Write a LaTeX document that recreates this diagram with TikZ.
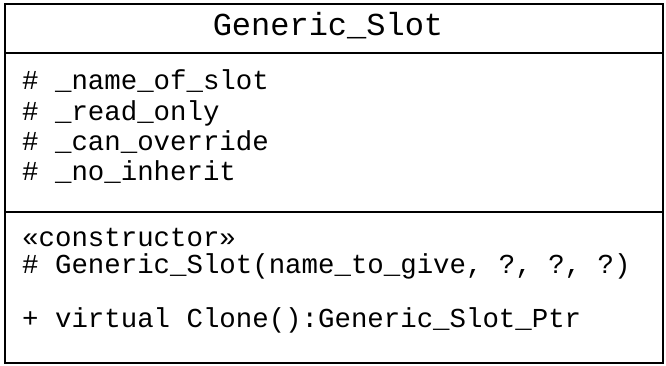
\documentclass[tikz,border=0pt]{standalone}
\usepackage{fontspec}
\setmonofont{Liberation Mono}
\begin{document}
\begin{tikzpicture}[x=1pt,y=-1pt,
    member/.style={anchor=base west,inner sep=0pt,
        font=\ttfamily\fontsize{27.4}{30}\selectfont}]
    \useasboundingbox (0,0) rectangle (666,366);
    % class box and compartments
    \draw[line width=2.5pt] (5,4) rectangle (663,363);
    \draw[line width=2.5pt] (5,53) -- (663,53);
    \draw[line width=2.5pt] (5,212) -- (663,212);
    % class name
    \node[anchor=base,inner sep=0pt,font=\ttfamily\fontsize{32}{34}\selectfont]
        (name) at (328,36) {Generic\_Slot};
    % attributes
    \node[member] (a1) at (22,90) {\# \_name\_of\_slot};
    \node[member] (a2) at (22,121) {\# \_read\_only};
    \node[member] (a3) at (22,151) {\# \_can\_override};
    \node[member] (a4) at (22,181) {\# \_no\_inherit};
    % operations
    \node[member] (st) at (22,246) {«constructor»};
    \node[member] (o1) at (22,273) {\# Generic\_Slot(name\_to\_give, ?, ?, ?)};
    \node[member] (o2) at (22,327) {+ virtual Clone():Generic\_Slot\_Ptr};
\end{tikzpicture}
\end{document}
